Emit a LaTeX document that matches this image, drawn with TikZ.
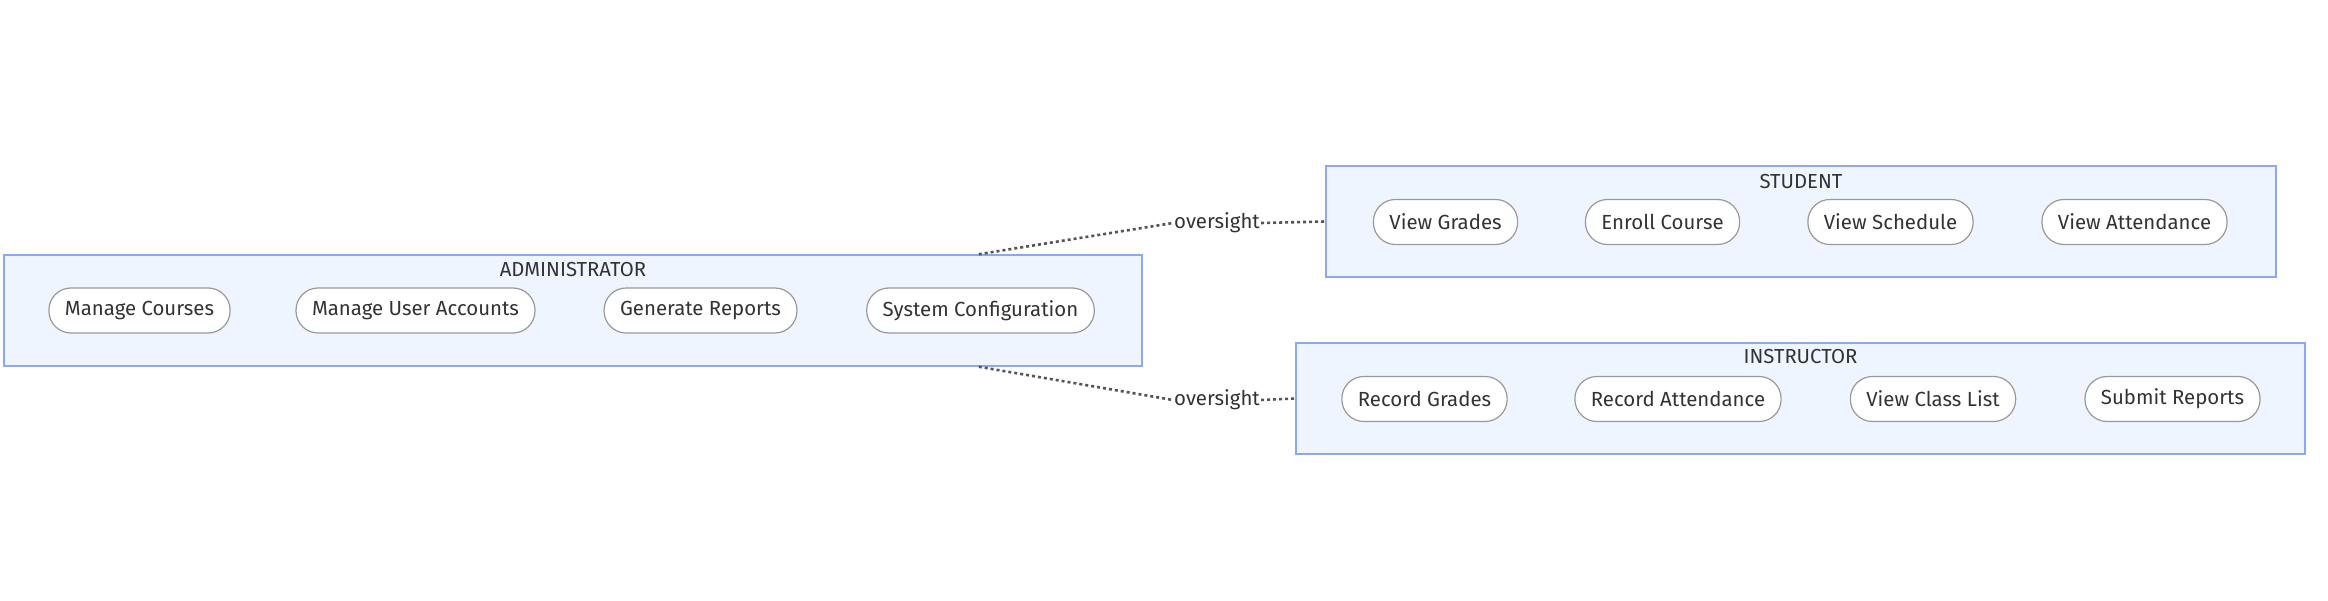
\documentclass[tikz,border=0pt]{standalone}
\usepackage{fontspec}
\setmainfont{Fira Sans}
\usepackage{xcolor}
\usetikzlibrary{positioning}
\definecolor{groupfill}{HTML}{EFF5FF}
\definecolor{groupline}{HTML}{8AA8F5}
\definecolor{pillline}{HTML}{999999}
\definecolor{inktext}{HTML}{333333}
\definecolor{linkline}{HTML}{555555}
\tikzset{
  group/.style={draw=groupline, fill=groupfill, line width=1.5pt, inner sep=0pt},
  grouptitle/.style={font=\fontsize{20.3}{22}\selectfont, text=inktext, inner sep=0pt},
  task/.style={draw=pillline, fill=white, line width=1.2pt, rounded corners=22pt,
    minimum height=45pt, inner xsep=16pt, font=\fontsize{20.4}{22}\selectfont, text=inktext},
  link/.style={draw=linkline, line width=2.6pt, dash pattern=on 3pt off 3pt},
  linklabel/.style={font=\fontsize{20.4}{22}\selectfont, text=inktext, inner sep=1pt}
}
\begin{document}
\begin{tikzpicture}[x=1pt, y=-1pt]
\useasboundingbox (0,0) rectangle (2328,601);

% Administrator group
\node[group, minimum width=1138pt, minimum height=111pt] (admin) at (573,310.5) {};
\node[grouptitle] (adminTitle) at (573,270) {ADMINISTRATOR};
\node[task] (manageCourses) at (139.5,310.5) {Manage Courses};
\node[task] (manageUsers) at (415.5,310.5) {Manage User Accounts};
\node[task] (genReports) at (700.5,310.5) {Generate Reports};
\node[task] (sysConfig) at (980.5,310.5) {System Configuration};

% Student group
\node[group, minimum width=950pt, minimum height=111pt] (student) at (1801,221.5) {};
\node[grouptitle] (studentTitle) at (1801,182) {STUDENT};
\node[task] (viewGrades) at (1445.5,222) {View Grades};
\node[task] (enrollCourse) at (1662.5,222) {Enroll Course};
\node[task] (viewSchedule) at (1890.5,222) {View Schedule};
\node[task] (viewAttendance) at (2134.5,222) {View Attendance};

% Instructor group
\node[group, minimum width=1009pt, minimum height=111pt] (instructor) at (1800.5,398.5) {};
\node[grouptitle] (instructorTitle) at (1800.5,357) {INSTRUCTOR};
\node[task] (recordGrades) at (1424.5,399) {Record Grades};
\node[task] (recordAttendance) at (1678,399) {Record Attendance};
\node[task] (viewClassList) at (1933,399) {View Class List};
\node[task] (submitReports) at (2172.5,399) {Submit Reports};

% Oversight links
\node[linklabel] (oversightTop) at (1217,223) {oversight};
\node[linklabel] (oversightBottom) at (1217,400) {oversight};
\draw[link] ([xshift=-164pt]admin.north east) -- (oversightTop.west);
\draw[link] (oversightTop.east) -- (student.west);
\draw[link] ([xshift=-164pt]admin.south east) -- (oversightBottom.west);
\draw[link] (oversightBottom.east) -- (instructor.west);
\end{tikzpicture}
\end{document}
